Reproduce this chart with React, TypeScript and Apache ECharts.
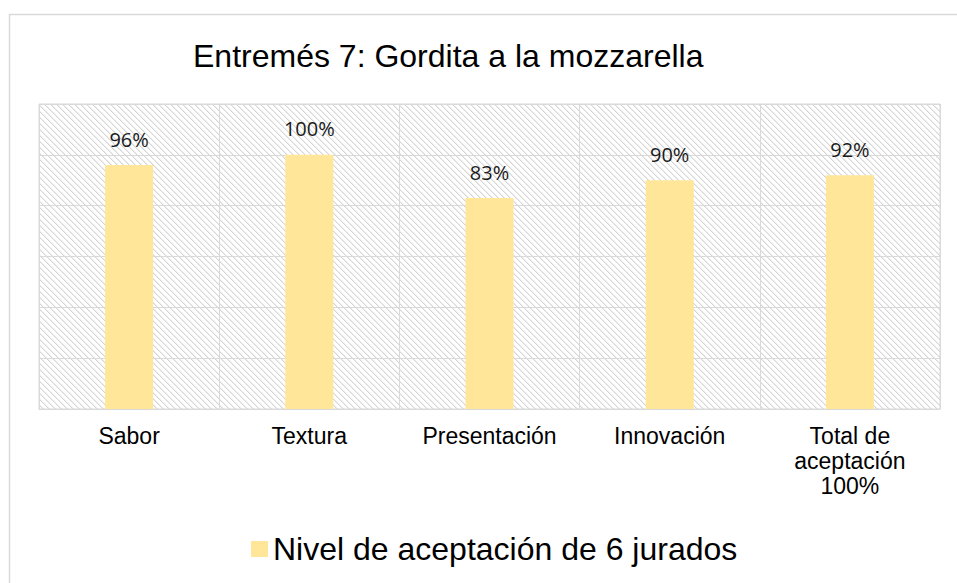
import React, { useEffect, useRef } from "react";
import * as echarts from "echarts";

const titleText = "Entremés 7: Gordita a la mozzarella";
const seriesName = "Nivel de aceptación de 6 jurados";
const categories = ["Sabor", "Textura", "Presentación", "Innovación", "Total de\naceptación\n100%"];
const values = [96, 100, 83, 90, 92];
const axisMax = 120;
const axisStep = 20;

function makeHatch() {
  const c = document.createElement("canvas");
  const n = 6;
  c.width = n;
  c.height = n;
  const ctx = c.getContext("2d")!;
  ctx.fillStyle = "#ffffff";
  ctx.fillRect(0, 0, n, n);
  for (let i = 0; i < n; i++) {
    ctx.fillStyle = "#d6d6d6";
    ctx.fillRect(i, i, 1, 1);
    ctx.fillStyle = "#ececec";
    ctx.fillRect((i + 1) % n, i, 1, 1);
  }
  return c;
}

export default function App() {
  const ref = useRef<HTMLDivElement>(null);
  useEffect(() => {
    if (!ref.current) return;
    const chart = echarts.init(ref.current, null, { renderer: "svg" });
    const hatch = makeHatch();
    chart.setOption({
      animation: false,
      backgroundColor: "#ffffff",
      title: {
        text: titleText,
        left: 193,
        top: 40,
        padding: 0,
        textStyle: { fontFamily: "Liberation Sans", fontSize: 32, fontWeight: "normal", color: "#000000" },
      },
      legend: {
        left: 251,
        top: 533,
        padding: 0,
        itemWidth: 17,
        itemHeight: 16,
        icon: "rect",
        textStyle: { fontFamily: "Liberation Sans", fontSize: 32, color: "#000000" },
        data: [seriesName],
      },
      grid: {
        show: true,
        left: 39,
        right: 17,
        top: 104,
        bottom: 174,
        backgroundColor: { image: hatch, repeat: "repeat", imageWidth: 6, imageHeight: 6 },
        borderColor: "#d9d9d9",
        borderWidth: 1,
      },
      xAxis: {
        type: "category",
        data: categories,
        axisLine: { show: true, lineStyle: { color: "#d9d9d9", width: 1 } },
        axisTick: { show: false },
        splitLine: { show: true, interval: 0, lineStyle: { color: "#d9d9d9", width: 1 } },
        axisLabel: {
          interval: 0,
          margin: 14,
          fontFamily: "Liberation Sans",
          fontSize: 23,
          lineHeight: 25,
          color: "#000000",
          verticalAlign: "top",
        },
      },
      yAxis: {
        type: "value",
        min: 0,
        max: axisMax,
        interval: axisStep,
        axisLabel: { show: false },
        axisLine: { show: false },
        axisTick: { show: false },
        splitLine: { show: true, lineStyle: { color: "#d9d9d9", width: 1 } },
      },
      graphic: [
        {
          type: "rect",
          shape: { x: 9.5, y: 14.5, width: 980, height: 620 },
          style: { fill: "none", stroke: "#d9d9d9", lineWidth: 1.5 },
          silent: true,
          z: -10,
        },
      ],
      series: [
        {
          name: seriesName,
          type: "bar",
          data: values,
          barWidth: 48,
          itemStyle: { color: "#ffe699" },
          label: {
            show: true,
            position: "top",
            distance: 16,
            formatter: (p: any) => p.value + "%",
            fontFamily: "Open Sans",
            fontSize: 20,
            color: "#1a1a1a",
          },
        },
      ],
    });
    return () => chart.dispose();
  }, []);
  return (
    <div
      ref={ref}
      style={{ position: "fixed", left: 0, top: 0, width: 957, height: 583 }}
    />
  );
}
